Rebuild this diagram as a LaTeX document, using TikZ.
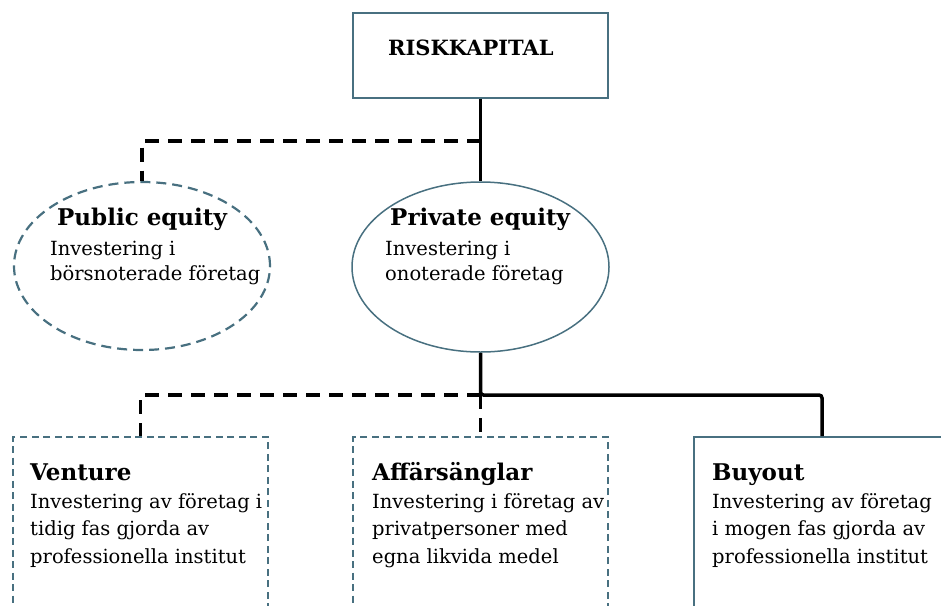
\documentclass[tikz,border=0pt]{standalone}
\usepackage{fontspec}
\setmainfont{DejaVu Serif}
\usepackage{xcolor}
\usetikzlibrary{positioning, shapes.geometric}

\definecolor{boxline}{RGB}{72,112,128}

\tikzset{
  solidbox/.style={rectangle, draw=boxline, line width=1.8pt, inner sep=0pt},
  dashbox/.style={rectangle, draw=boxline, line width=1.6pt, dash pattern=on 7pt off 4.5pt, inner sep=0pt},
  solidoval/.style={ellipse, draw=boxline, line width=1.5pt, inner sep=0pt},
  dashoval/.style={ellipse, draw=boxline, line width=2.2pt, dash pattern=on 10pt off 6pt, inner sep=0pt},
  solidlink/.style={line width=3.5pt, black, rounded corners=3pt},
  dashlink/.style={line width=3.5pt, black, dash pattern=on 14pt off 9pt},
  titletext/.style={inner sep=0pt, anchor=base west, font=\bfseries\fontsize{23}{27}\selectfont},
  bodytext/.style={inner sep=0pt, anchor=base west, align=left, font=\fontsize{19.5}{27.5}\selectfont},
}

\begin{document}
\begin{tikzpicture}[x=1pt, y=-1pt]
  \useasboundingbox (0,0) rectangle (941,605);
  \clip (0,0) rectangle (941,605);

  % top level
  \node[solidbox, minimum width=255, minimum height=85] (risk) at (480.5,55.5) {};
  \node[titletext, font=\bfseries\fontsize{21}{25}\selectfont] (risktitle) at (388,55) {RISKKAPITAL};

  % second level (body nodes sit on their last line)
  \node[dashoval, minimum width=256, minimum height=168] (public) at (142,266) {};
  \node[solidoval, minimum width=257, minimum height=170] (private) at (480.5,267) {};
  \node[titletext] (publictitle) at (57,225) {Public equity};
  \node[bodytext, font=\fontsize{19.5}{25}\selectfont] (publicbody) at (50,280) {Investering i\\börsnoterade företag};
  \node[titletext] (privatetitle) at (390,225) {Private equity};
  \node[bodytext, font=\fontsize{19.5}{25}\selectfont] (privatebody) at (385,280) {Investering i\\onoterade företag};

  % third level
  \node[dashbox, minimum width=255, minimum height=263] (venture) at (140.5,568.5) {};
  \node[dashbox, minimum width=255, minimum height=263] (angel) at (480.5,568.5) {};
  \node[solidbox, minimum width=256, minimum height=263] (buyout) at (822,568.5) {};
  \node[titletext] (venturetitle) at (30,480) {Venture};
  \node[bodytext] (venturebody) at (30,563) {Investering av företag i\\tidig fas gjorda av\\professionella institut};
  \node[titletext] (angeltitle) at (372,480) {Affärsänglar};
  \node[bodytext] (angelbody) at (372,563) {Investering i företag av\\privatpersoner med\\egna likvida medel};
  \node[titletext] (buyouttitle) at (712,480) {Buyout};
  \node[bodytext] (buyoutbody) at (712,563) {Investering av företag\\i mogen fas gjorda av\\professionella institut};

  % connectors
  \coordinate (topsplit) at (480.5,141);
  \coordinate (lowsplit) at (480.5,395);
  \draw[solidlink] (risk.south) -- (private.north);
  \draw[dashlink] (topsplit) -| (public.north);
  \draw[solidlink] (private.south) -- (lowsplit) -| (buyout.north);
  \draw[dashlink] (lowsplit) -| (venture.north);
  \draw[dashlink] (lowsplit) -- (angel.north);
\end{tikzpicture}
\end{document}
